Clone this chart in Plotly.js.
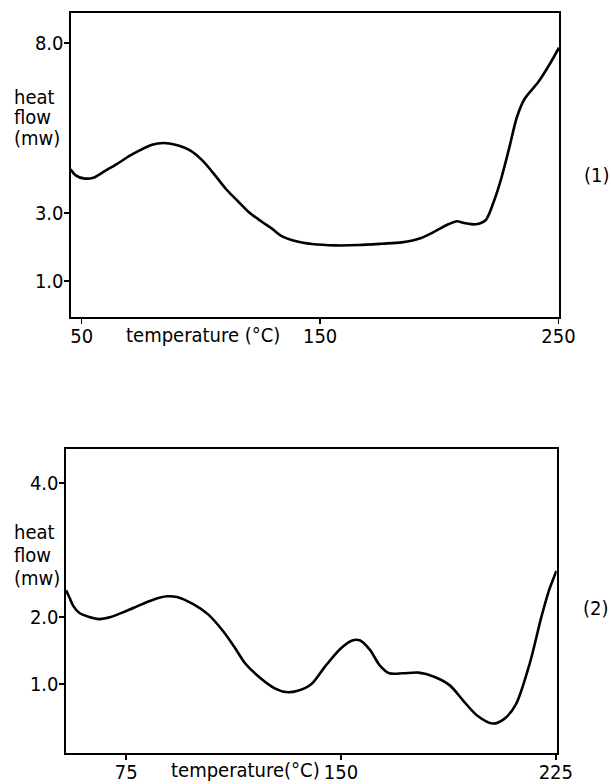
<!DOCTYPE html>
<html>
<head>
<meta charset="utf-8">
<script src="https://cdn.plot.ly/plotly-3.0.1.min.js"></script>
<style>html,body{margin:0;padding:0;background:#fff;}#chart{width:611px;height:784px;}</style>
</head>
<body>
<div id="chart"></div>
<script>
// Curve (1): temperature (°C) vs heat flow (mW)
const temp1 = [45.3, 47.5, 50.8, 54.9, 59.8, 64.7, 71.3, 79.5, 84.4, 89.3, 95.8, 100.7, 105.6, 110.6, 115.5, 120.4, 125.3, 130.2, 133.5, 140.0, 146.6, 156.4, 166.2, 176.0, 184.2, 192.4, 198.9, 203.8, 207.4, 210.4, 215.3, 219.4, 222.7, 225.9, 229.2, 232.5, 235.8, 241.5, 246.4, 250.2];
const flow1 = [4.29, 4.11, 4.02, 4.04, 4.24, 4.44, 4.73, 5.01, 5.06, 5.01, 4.83, 4.54, 4.14, 3.70, 3.35, 3.01, 2.76, 2.52, 2.34, 2.17, 2.09, 2.05, 2.06, 2.10, 2.14, 2.27, 2.49, 2.67, 2.76, 2.71, 2.67, 2.79, 3.31, 4.00, 4.88, 5.81, 6.36, 6.85, 7.39, 7.86];

// Curve (2)
const temp2 = [54.0, 55.3, 56.6, 58.7, 62.1, 65.5, 69.6, 75.0, 80.4, 85.9, 89.3, 92.7, 98.1, 103.6, 109.0, 113.1, 116.5, 121.3, 126.7, 130.8, 134.9, 139.7, 144.4, 149.9, 153.9, 156.7, 160.1, 163.5, 166.9, 171.6, 177.1, 182.5, 188.0, 192.7, 197.5, 203.0, 207.0, 211.1, 215.9, 220.0, 222.7, 225.2];
const flow2 = [2.40, 2.28, 2.16, 2.06, 2.00, 1.97, 2.00, 2.09, 2.19, 2.28, 2.31, 2.30, 2.20, 2.04, 1.78, 1.53, 1.31, 1.11, 0.94, 0.88, 0.90, 1.00, 1.26, 1.53, 1.65, 1.65, 1.51, 1.28, 1.16, 1.16, 1.17, 1.11, 0.98, 0.75, 0.53, 0.41, 0.48, 0.70, 1.31, 2.01, 2.41, 2.69];

// Tick labels
const xTicks1 = [50, 150, 250];
const xTickText1 = ["50", "150", "250"];
const yTicks1 = [1, 3, 8];
const yTickText1 = ["1.0", "3.0", "8.0"];
const xTicks2 = [75, 150, 225];
const xTickText2 = ["75", "150", "225"];
const yTicks2 = [1, 2, 4];
const yTickText2 = ["1.0", "2.0", "4.0"];

const FONT = "DejaVu Sans Condensed, Liberation Sans Narrow, Arial Narrow, sans-serif";
const FS = 20;
const W = 611, H = 784;

function axisCommon(standoff) {
  return {
    showline: true, mirror: true, linecolor: "#000", linewidth: 2,
    ticks: "outside", ticklen: 5, tickwidth: 1.5, tickcolor: "#000",
    showgrid: false, zeroline: false, automargin: false,
    ticklabelstandoff: standoff,
    tickfont: {family: FONT, size: FS, color: "#000"}
  };
}

const traces = [
  {x: temp1, y: flow1, xaxis: "x", yaxis: "y", mode: "lines",
   line: {color: "#000", width: 2.6, shape: "spline", smoothing: 0.8}, hoverinfo: "skip"},
  {x: temp2, y: flow2, xaxis: "x2", yaxis: "y2", mode: "lines",
   line: {color: "#000", width: 2.6, shape: "spline", smoothing: 0.8}, hoverinfo: "skip"}
];

function px(x) { return x / W; }
function py(y) { return 1 - y / H; }

function txt(text, x, y, xanchor) {
  return {text: text, xref: "paper", yref: "paper", x: px(x), y: py(y),
    xanchor: xanchor || "center", yanchor: "middle", showarrow: false,
    font: {family: FONT, size: FS, color: "#000"}};
}

const layout = {
  width: W, height: H,
  margin: {l: 0, r: 0, t: 0, b: 0},
  paper_bgcolor: "#fff", plot_bgcolor: "#fff",
  showlegend: false,
  xaxis: Object.assign(axisCommon(-5), {domain: [px(70.5), px(559)], range: [45.3, 250.2],
    tickmode: "array", tickvals: xTicks1, ticktext: xTickText1, anchor: "y"}),
  yaxis: Object.assign(axisCommon(-4), {domain: [py(316.5), py(12.7)], range: [-0.04, 8.89],
    tickmode: "array", tickvals: yTicks1, ticktext: yTickText1, anchor: "x"}),
  xaxis2: Object.assign(axisCommon(-5), {domain: [px(65.5), px(556.7)], range: [53.8, 225.3],
    tickmode: "array", tickvals: xTicks2, ticktext: xTickText2, anchor: "y2"}),
  yaxis2: Object.assign(axisCommon(-4), {domain: [py(753), py(449)], range: [-0.03, 4.51],
    tickmode: "array", tickvals: yTicks2, ticktext: yTickText2, anchor: "x2"}),
  annotations: [
    txt("heat", 12, 97, "left"),
    txt("flow", 12, 117, "left"),
    txt("(mw)", 12, 138, "left"),
    txt("temperature (°C)", 202.5, 335),
    txt("(1)", 597, 175),
    txt("heat", 12, 532, "left"),
    txt("flow", 12, 555, "left"),
    txt("(mw)", 12, 578, "left"),
    txt("temperature(°C)", 245, 770),
    txt("(2)", 596, 608)
  ]
};

Plotly.newPlot("chart", traces, layout, {staticPlot: true, displayModeBar: false});
</script>
</body>
</html>
